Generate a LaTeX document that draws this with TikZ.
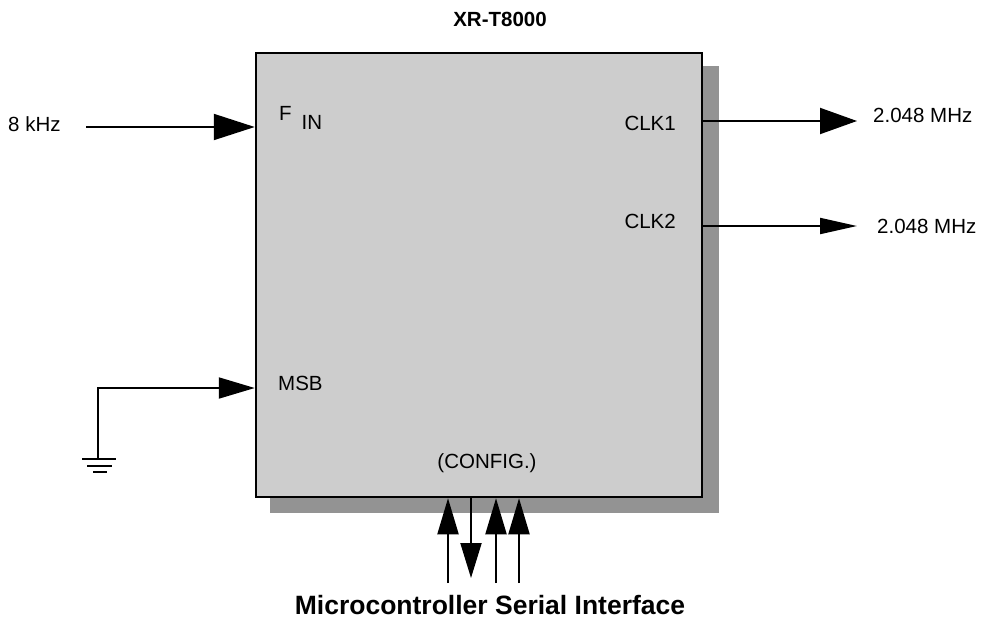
\documentclass[tikz,border=0pt]{standalone}
\usepackage{fontspec}
\setmainfont{Liberation Sans}
\usetikzlibrary{arrows.meta}
\definecolor{chipfill}{RGB}{205,205,205}
\definecolor{shadowgray}{RGB}{147,147,147}
\begin{document}
\begin{tikzpicture}[x=1pt,y=-1pt,
  lbl/.style={font=\fontsize{20.5}{24}\selectfont, inner sep=0pt},
  sig/.style={line width=2pt},
  chipbox/.style={draw, line width=2.5pt, fill=chipfill, inner sep=0pt},
  tipin/.style={-{Triangle[length=41pt,width=26pt]}},
  tipbig/.style={-{Triangle[length=37pt,width=26pt]}},
  tipsmall/.style={-{Triangle[length=37pt,width=16pt]}},
  tipmid/.style={-{Triangle[length=36pt,width=21pt]}},
  gndbar/.style={line width=2.8pt}
]
\useasboundingbox (0,0) rectangle (982,621);
% shadow
\fill[shadowgray] (270,66) rectangle (719,513);
% chip
\node[chipbox, minimum width=446pt, minimum height=444pt] (chip) at (479,275) {};

% title
\node[lbl, font=\bfseries\fontsize{20.5}{24}\selectfont, anchor=base] (title) at (500,26) {XR-T8000};

% input
\node[lbl, anchor=base west] (khz) at (8,131) {8 kHz};
\coordinate (finsrc) at (86,127);
\draw[sig, tipin] (finsrc) -- (finsrc -| chip.west);
\node[lbl, anchor=base west] (fin) at (279,120) {F\hspace{10pt}\raisebox{-9pt}{IN}};

% outputs
\node[lbl, anchor=base east] (clk1) at (676,130) {CLK1};
\coordinate (clk1end) at (857,121);
\draw[sig, tipbig] (chip.east |- clk1end) -- (clk1end);
\node[lbl, anchor=base west] (f1) at (873,122) {2.048 MHz};

\node[lbl, anchor=base east] (clk2) at (676,228) {CLK2};
\coordinate (clk2end) at (857,226);
\draw[sig, tipsmall] (chip.east |- clk2end) -- (clk2end);
\node[lbl, anchor=base west] (f2) at (877,233) {2.048 MHz};

% MSB
\node[lbl, anchor=base west] (msb) at (278,390) {MSB};
\coordinate (gnd) at (98,459);
\coordinate (msbpin) at (256,388);
\draw[sig, tipmid] (gnd) |- (msbpin -| chip.west);
\draw[gndbar] (82,459) -- (116,459);
\draw[gndbar] (87,466) -- (112,466);
\draw[gndbar] (93,472) -- (107,472);

% config
\node[lbl, anchor=base] (config) at (487,468) {(CONFIG.)};
\coordinate (b1) at (448,583);
\coordinate (b2) at (471,578);
\coordinate (b3) at (496,583);
\coordinate (b4) at (519,583);
\draw[sig, tipmid] (b1) -- (b1 |- chip.south);
\draw[sig, -{Triangle[length=35pt,width=21pt]}] (b2 |- chip.south) -- (b2);
\draw[sig, tipmid] (b3) -- (b3 |- chip.south);
\draw[sig, tipmid] (b4) -- (b4 |- chip.south);

\node[font=\bfseries\fontsize{26.5}{30}\selectfont, inner sep=0pt, anchor=base] (msi) at (490,614) {Microcontroller Serial Interface};
\end{tikzpicture}
\end{document}
